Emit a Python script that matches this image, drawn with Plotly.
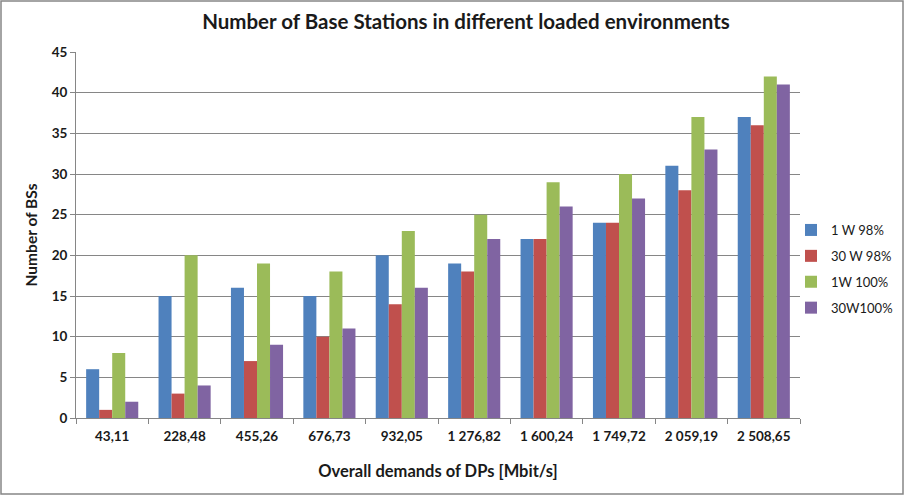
import plotly.graph_objects as go

categories = ["43,11", "228,48", "455,26", "676,73", "932,05", "1 276,82", "1 600,24", "1 749,72", "2 059,19", "2 508,65"]
s_1w98 = [6, 15, 16, 15, 20, 19, 22, 24, 31, 37]
s_30w98 = [1, 3, 7, 10, 14, 18, 22, 24, 28, 36]
s_1w100 = [8, 20, 19, 18, 23, 25, 29, 30, 37, 42]
s_30w100 = [2, 4, 9, 11, 16, 22, 26, 27, 33, 41]
series_names = ["1 W 98%", "30 W 98%", "1W 100%", "30W100%"]
colors = ["#4F81BD", "#C0504D", "#9BBB59", "#8064A2"]

fig = go.Figure()
for i, (name, vals, c) in enumerate(zip(series_names, [s_1w98, s_30w98, s_1w100, s_30w100], colors)):
    fig.add_trace(go.Bar(name=name, x=categories, y=vals, legendgroup=f"g{i}",
                         marker=dict(color=c, line=dict(width=0))))

W, H = 905, 496
L, R, T, B = 76, 800, 52, 418
pw, ph = R - L, B - T

def px(x):
    return (x - L) / pw

def py(y):
    return (B - y) / ph

fig.update_layout(
    width=W, height=H,
    margin=dict(l=L, r=W - R, t=T, b=H - B, autoexpand=False),
    paper_bgcolor="white", plot_bgcolor="white",
    font=dict(family="Lato, Open Sans, sans-serif", color="#1a1a1a"),
    barmode="group", bargap=0.28, bargroupgap=0,
    title=dict(text="<b>Number of Base Stations in different loaded environments</b>",
               x=466 / W, xref="container", xanchor="center", y=1 - 22 / H, yanchor="middle",
               font=dict(size=20.5, color="#1a1a1a")),
    xaxis=dict(
        showline=True, linecolor="#868686", linewidth=1,
        ticks="outside", tickson="boundaries", ticklen=5, tickcolor="#868686",
        tickfont=dict(size=13.5, color="#1a1a1a"), ticklabelstandoff=6,
        title=dict(text="<b>Overall demands of DPs [Mbit/s]</b>", font=dict(size=16.5), standoff=22),
        tickprefix="<b>", ticksuffix="</b>",
    ),
    yaxis=dict(
        range=[0, 45], dtick=5,
        showgrid=True, gridcolor="#868686", gridwidth=1,
        showline=True, linecolor="#868686", linewidth=1,
        ticks="outside", ticklen=5, tickcolor="#868686",
        tickfont=dict(size=13.5, color="#1a1a1a"),
        tickprefix="<b>", ticksuffix="</b>",
        title=dict(text="<b>Number of BSs</b>", font=dict(size=15.5), standoff=10),
        zeroline=False,
    ),
    legend=dict(x=px(791), y=py(215), xanchor="left", yanchor="top",
                font=dict(size=13, color="#1a1a1a"), tracegroupgap=6, itemwidth=30,
                bgcolor="rgba(0,0,0,0)"),
    shapes=[dict(type="rect", xref="paper", yref="paper",
                 x0=px(1), x1=px(903), y0=py(494), y1=py(1),
                 line=dict(color="#868686", width=1.5), fillcolor="rgba(0,0,0,0)", layer="below")],
)

fig.write_html("out.html", config={"displayModeBar": False},
               post_script="document.body.style.margin='0';document.body.style.overflow='hidden';")
